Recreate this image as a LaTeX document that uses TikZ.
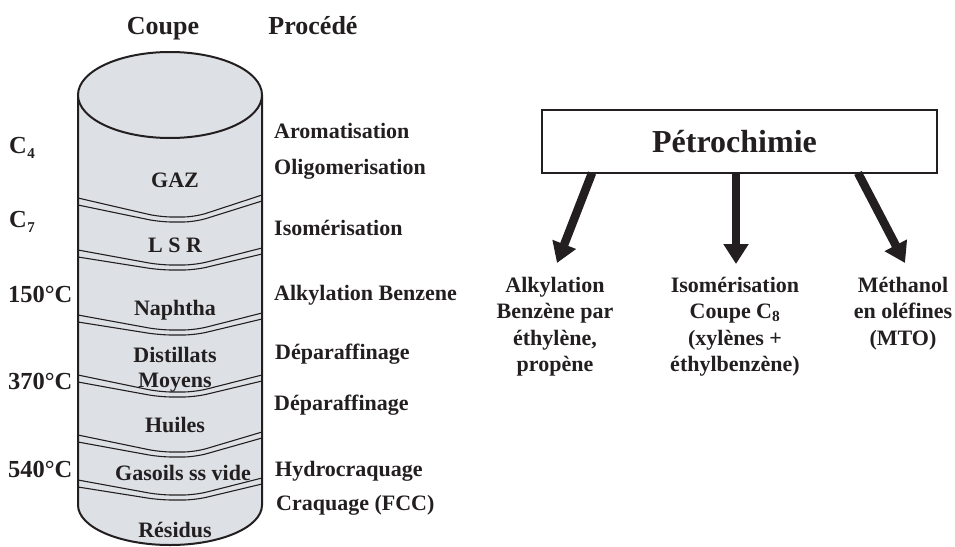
\documentclass[tikz,border=0pt]{standalone}
\usepackage{fontspec}
\setmainfont{Liberation Serif}
\usetikzlibrary{arrows.meta}
\definecolor{ink}{RGB}{35,31,32}
\definecolor{cylfill}{RGB}{221,225,229}
\tikzset{
  lab/.style={inner sep=0pt, text=ink, font=\bfseries\fontsize{22}{26.5}\selectfont},
  head/.style={inner sep=0pt, text=ink, font=\bfseries\fontsize{26}{30}\selectfont},
  cyltext/.style={lab, anchor=base},
  proc/.style={lab, anchor=base west},
  temp/.style={lab, anchor=base west, font=\bfseries\fontsize{24.5}{28}\selectfont},
  outline/.style={draw=ink, line width=2pt},
  sepline/.style={draw=ink, line width=1.1pt, rounded corners=12pt},
  bigarrow/.style={draw=ink, line width=8.5pt, -{Triangle[width=24pt,length=20pt]}},
  col/.style={lab, anchor=north, align=center},
}
\newcommand{\sepband}[3]{%
  \draw[sepline] (78,#1) -- (160,#2) -- (195,#2) -- (262,#3);
  \draw[sepline] (78,#1+7) -- (160,#2+5) -- (195,#2+5) -- (262,#3+6);
}
\newcommand{\lowsub}[1]{\kern0.5pt\raisebox{-5pt}{\fontsize{15}{15}\selectfont #1}}
\begin{document}
\begin{tikzpicture}[x=1pt,y=-1pt]
\useasboundingbox (0,0) rectangle (955,546);
% headers
\node[head, anchor=base] (hcoupe) at (163,34) {Coupe};
\node[head, anchor=base] (hproc) at (313,34) {Procédé};
% cylinder body
\path[fill=cylfill] (78,95) -- (78,505) arc[start angle=180,end angle=360,x radius=92pt,y radius=40pt] -- (262,95) -- cycle;
\draw[outline] (78,95) -- (78,505) arc[start angle=180,end angle=360,x radius=92pt,y radius=40pt] -- (262,95);
\draw[outline, fill=cylfill] (170,95) ellipse [x radius=92pt, y radius=43pt];
% separators
\sepband{198}{217}{195}
\sepband{250}{265}{248}
\sepband{315}{330}{313}
\sepband{375}{392}{375}
\sepband{435}{452}{432}
\sepband{480}{495}{478}
% cylinder texts
\node[cyltext] (gaz) at (175,187) {GAZ};
\node[cyltext] (lsr) at (175,252) {L S R};
\node[cyltext] (nap) at (175,315) {Naphtha};
\node[cyltext] (dist) at (175,362) {Distillats};
\node[cyltext] (moy) at (175,387) {Moyens};
\node[cyltext] (hui) at (175,432) {Huiles};
\node[cyltext] (gas) at (183,480) {Gasoils ss vide};
\node[cyltext] (res) at (175,537) {Résidus};
% left labels
\node[temp] (c4) at (9,153) {C\lowsub{4}};
\node[temp] (c7) at (9,227) {C\lowsub{7}};
\node[temp] (t150) at (8,302) {150°C};
\node[temp] (t370) at (8,389) {370°C};
\node[temp] (t540) at (8,477) {540°C};
% process labels
\node[proc] (p1) at (274,138) {Aromatisation};
\node[proc] (p2) at (274,174) {Oligomerisation};
\node[proc] (p3) at (274,235) {Isomérisation};
\node[proc] (p4) at (274,300) {Alkylation Benzene};
\node[proc] (p5) at (275,359) {Déparaffinage};
\node[proc] (p6) at (274,410) {Déparaffinage};
\node[proc] (p7) at (275,476) {Hydrocraquage};
\node[proc] (p8) at (276,510) {Craquage (FCC)};
% petrochimie box
\node[draw=ink, line width=2pt, minimum width=395pt, minimum height=63pt, inner sep=0pt,
      text=ink, font=\bfseries\fontsize{32}{36}\selectfont] (petro) at (739.5,141.5) {\hspace*{-10pt}Pétrochimie};
% columns
\node[col] (alk) at (555,273.5) {\strut Alkylation\\Benzène par\\éthylène,\\propène};
\node[col] (iso) at (735,273.5) {\strut Isomérisation\\Coupe C\textsubscript{8}\\(xylènes +\\éthylbenzène)};
\node[col] (mto) at (903,273.5) {\strut Méthanol\\en oléfines\\(MTO)};
% arrows
\coordinate (s1) at (592,173);
\coordinate (s2) at (736,173);
\coordinate (s3) at (858,173);
\coordinate (t1) at (557,263);
\coordinate (t2) at (736,264);
\coordinate (t3) at (905,263);
\draw[bigarrow] (s1) -- (t1);
\draw[bigarrow] (s2) -- (t2);
\draw[bigarrow] (s3) -- (t3);
\end{tikzpicture}
\end{document}
